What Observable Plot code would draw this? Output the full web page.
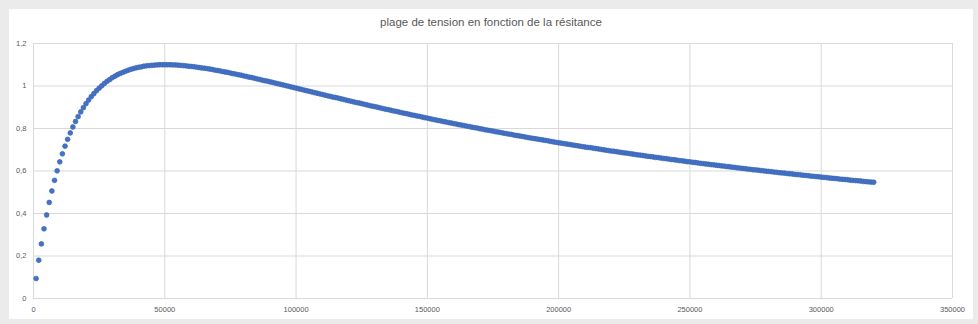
<!DOCTYPE html>
<html>
<head>
<meta charset="utf-8">
<script src="https://cdn.jsdelivr.net/npm/d3@7"></script>
<script src="https://cdn.jsdelivr.net/npm/@observablehq/plot@0.6"></script>
<style>
  html, body { margin: 0; padding: 0; }
  body { width: 978px; height: 324px; background: #ebebeb; position: relative; overflow: hidden; font-family: "Liberation Sans", Arial, sans-serif; }
  #panel { position: absolute; left: 9px; top: 9px; width: 964px; height: 310px; background: #ffffff; }
  #title { height: 26px; line-height: 26px; text-align: center; font-size: 11.5px; color: #595959; }
  #chart svg { display: block; }
</style>
</head>
<body>
<div id="panel">
  <div id="title">plage de tension en fonction de la résitance</div>
  <div id="chart"></div>
</div>
<script>
// Resistance (ohm) — one point every 1000 ohm, as drawn
const resistance = [
  1000,2000,3000,4000,5000,6000,7000,8000,9000,10000,11000,12000,13000,14000,15000,16000,17000,18000,19000,20000,
  21000,22000,23000,24000,25000,26000,27000,28000,29000,30000,31000,32000,33000,34000,35000,36000,37000,38000,39000,40000,
  41000,42000,43000,44000,45000,46000,47000,48000,49000,50000,51000,52000,53000,54000,55000,56000,57000,58000,59000,60000,
  61000,62000,63000,64000,65000,66000,67000,68000,69000,70000,71000,72000,73000,74000,75000,76000,77000,78000,79000,80000,
  81000,82000,83000,84000,85000,86000,87000,88000,89000,90000,91000,92000,93000,94000,95000,96000,97000,98000,99000,100000,
  101000,102000,103000,104000,105000,106000,107000,108000,109000,110000,111000,112000,113000,114000,115000,116000,117000,118000,119000,120000,
  121000,122000,123000,124000,125000,126000,127000,128000,129000,130000,131000,132000,133000,134000,135000,136000,137000,138000,139000,140000,
  141000,142000,143000,144000,145000,146000,147000,148000,149000,150000,151000,152000,153000,154000,155000,156000,157000,158000,159000,160000,
  161000,162000,163000,164000,165000,166000,167000,168000,169000,170000,171000,172000,173000,174000,175000,176000,177000,178000,179000,180000,
  181000,182000,183000,184000,185000,186000,187000,188000,189000,190000,191000,192000,193000,194000,195000,196000,197000,198000,199000,200000,
  201000,202000,203000,204000,205000,206000,207000,208000,209000,210000,211000,212000,213000,214000,215000,216000,217000,218000,219000,220000,
  221000,222000,223000,224000,225000,226000,227000,228000,229000,230000,231000,232000,233000,234000,235000,236000,237000,238000,239000,240000,
  241000,242000,243000,244000,245000,246000,247000,248000,249000,250000,251000,252000,253000,254000,255000,256000,257000,258000,259000,260000,
  261000,262000,263000,264000,265000,266000,267000,268000,269000,270000,271000,272000,273000,274000,275000,276000,277000,278000,279000,280000,
  281000,282000,283000,284000,285000,286000,287000,288000,289000,290000,291000,292000,293000,294000,295000,296000,297000,298000,299000,300000,
  301000,302000,303000,304000,305000,306000,307000,308000,309000,310000,311000,312000,313000,314000,315000,316000,317000,318000,319000,320000
];

// Tension (V)
const tension = [
  0.094,0.180,0.257,0.328,0.393,0.452,0.506,0.556,0.601,0.643,0.681,0.717,0.749,0.779,0.807,0.833,0.856,0.878,0.898,0.917,
  0.934,0.950,0.964,0.978,0.990,1.001,1.012,1.022,1.030,1.039,1.046,1.053,1.059,1.064,1.069,1.074,1.078,1.082,1.085,1.088,
  1.090,1.093,1.095,1.096,1.097,1.098,1.099,1.100,1.100,1.100,1.100,1.100,1.099,1.099,1.098,1.097,1.096,1.095,1.093,1.092,
  1.091,1.089,1.087,1.085,1.084,1.082,1.080,1.078,1.075,1.073,1.071,1.068,1.066,1.064,1.061,1.058,1.056,1.053,1.051,1.048,
  1.045,1.042,1.040,1.037,1.034,1.031,1.028,1.025,1.023,1.020,1.017,1.014,1.011,1.008,1.005,1.002,0.999,0.996,0.993,0.990,
  0.987,0.984,0.981,0.978,0.975,0.972,0.969,0.966,0.963,0.960,0.957,0.954,0.951,0.948,0.946,0.943,0.940,0.937,0.934,0.931,
  0.928,0.925,0.922,0.920,0.917,0.914,0.911,0.908,0.905,0.903,0.900,0.897,0.894,0.891,0.889,0.886,0.883,0.881,0.878,0.875,
  0.872,0.870,0.867,0.864,0.862,0.859,0.857,0.854,0.851,0.849,0.846,0.843,0.841,0.838,0.836,0.833,0.831,0.828,0.826,0.823,
  0.821,0.818,0.816,0.814,0.811,0.809,0.806,0.804,0.802,0.799,0.797,0.794,0.792,0.790,0.788,0.785,0.783,0.781,0.778,0.776,
  0.774,0.772,0.769,0.767,0.765,0.763,0.761,0.758,0.756,0.754,0.752,0.750,0.748,0.746,0.744,0.742,0.739,0.737,0.735,0.733,
  0.731,0.729,0.727,0.725,0.723,0.721,0.719,0.717,0.715,0.713,0.711,0.710,0.708,0.706,0.704,0.702,0.700,0.698,0.696,0.694,
  0.693,0.691,0.689,0.687,0.685,0.684,0.682,0.680,0.678,0.676,0.675,0.673,0.671,0.669,0.668,0.666,0.664,0.663,0.661,0.659,
  0.658,0.656,0.654,0.653,0.651,0.649,0.648,0.646,0.644,0.643,0.641,0.640,0.638,0.636,0.635,0.633,0.632,0.630,0.629,0.627,
  0.626,0.624,0.623,0.621,0.620,0.618,0.617,0.615,0.614,0.612,0.611,0.609,0.608,0.606,0.605,0.604,0.602,0.601,0.599,0.598,
  0.597,0.595,0.594,0.592,0.591,0.590,0.588,0.587,0.586,0.584,0.583,0.582,0.580,0.579,0.578,0.576,0.575,0.574,0.573,0.571,
  0.570,0.569,0.567,0.566,0.565,0.564,0.562,0.561,0.560,0.559,0.557,0.556,0.555,0.554,0.553,0.551,0.550,0.549,0.548,0.547
];

const xTicks = [0, 50000, 100000, 150000, 200000, 250000, 300000, 350000];
const xTickLabels = ["0", "50000", "100000", "150000", "200000", "250000", "300000", "350000"];
const yTicks = [0, 0.2, 0.4, 0.6, 0.8, 1, 1.2];
const yTickLabels = ["0", "0,2", "0,4", "0,6", "0,8", "1", "1,2"];

const data = resistance.map((r, i) => ({r, v: tension[i]}));

const chart = Plot.plot({
  width: 964,
  height: 283,
  marginLeft: 24,
  marginRight: 21,
  marginTop: 8,
  marginBottom: 20,
  style: {background: "transparent", fontFamily: "'Liberation Sans', Arial, sans-serif", fontSize: "7.5px", color: "#595959"},
  x: {domain: [0, 350000]},
  y: {domain: [0, 1.2]},
  marks: [
    Plot.gridX(xTicks, {stroke: "#d9d9d9", strokeOpacity: 1, strokeWidth: 1}),
    Plot.gridY(yTicks, {stroke: "#d9d9d9", strokeOpacity: 1, strokeWidth: 1}),
    Plot.axisX(xTicks, {tickSize: 0, tickPadding: 8, label: null, tickFormat: (d) => xTickLabels[xTicks.indexOf(d)]}),
    Plot.axisY(yTicks, {tickSize: 0, tickPadding: 7, label: null, tickFormat: (d) => yTickLabels[yTicks.indexOf(d)]}),
    Plot.dot(data, {x: "r", y: "v", r: 2.4, fill: "#4472c4", stroke: "#3964b5", strokeWidth: 0.7})
  ]
});
document.getElementById("chart").appendChild(chart);
</script>
</body>
</html>
